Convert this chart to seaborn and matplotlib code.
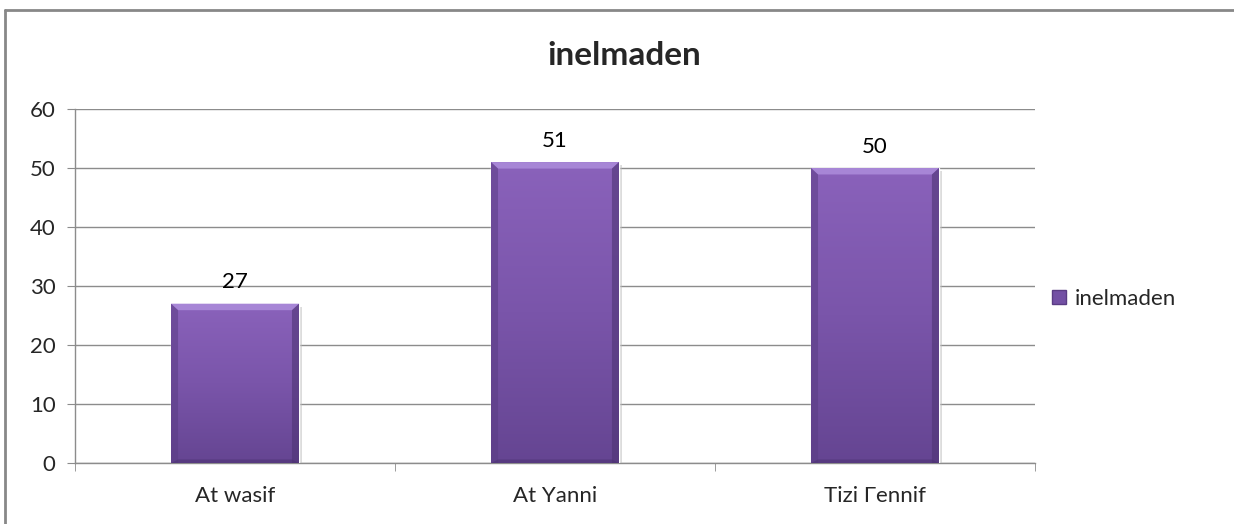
import numpy as np
import pandas as pd
import seaborn as sns
from matplotlib import pyplot as plt
from matplotlib.patches import Polygon
from matplotlib.colors import LinearSegmentedColormap
from matplotlib.lines import Line2D

# data
categories = ['At wasif', 'At Yanni', 'Tizi Γennif']
values = [27, 51, 50]
series_name = 'inelmaden'
yticks = [0, 10, 20, 30, 40, 50, 60]

df = pd.DataFrame({'place': categories, 'count': values})

sns.set_style("white")
plt.rcParams['font.family'] = ['Lato', 'DejaVu Sans']

fig = plt.figure(figsize=(12.34, 5.24), dpi=100)
ax = fig.add_axes([0.0608, 0.1164, 0.7779, 0.6756])

grey = '#8c8c8c'
bar_col = '#7b56aa'
sns.barplot(data=df, x='place', y='count', color=bar_col, width=0.4,
            saturation=1, label=series_name, ax=ax, zorder=3)

ax.set_xlim(-0.5, 2.5)
ax.set_ylim(0, 60)

# gradient + bevel on the bars (excel look)
cmap = LinearSegmentedColormap.from_list('purp', ['#654592', '#7a55aa', '#8a62bb'])
grad = np.linspace(0, 1, 256).reshape(-1, 1)
for p in list(ax.patches):
    x, w, h = p.get_x(), p.get_width(), p.get_height()
    im = ax.imshow(grad, extent=[x, x + w, 0, h], origin='lower', aspect='auto',
                   cmap=cmap, zorder=3.5)
    im.set_clip_path(p)
    dx, dy = 0.022, 1.1
    top = Polygon([[x, h], [x + w, h], [x + w - dx, h - dy], [x + dx, h - dy]],
                  closed=True, facecolor='#a786d6', edgecolor='none', zorder=4)
    left = Polygon([[x, 0], [x, h], [x + dx, h - dy], [x + dx, 0]],
                   closed=True, facecolor='#5a3c84', alpha=0.55, edgecolor='none', zorder=4)
    right = Polygon([[x + w, 0], [x + w, h], [x + w - dx, h - dy], [x + w - dx, 0]],
                    closed=True, facecolor='#4e3474', alpha=0.6, edgecolor='none', zorder=4)
    bottom = Polygon([[x, 0], [x + w, 0], [x + w - dx, 0.6], [x + dx, 0.6]],
                     closed=True, facecolor='#4a3170', alpha=0.5, edgecolor='none', zorder=4)
    for poly in (top, left, right, bottom):
        ax.add_patch(poly)
    # soft shadow
    ax.add_patch(Polygon([[x + w, 0], [x + w + 0.01, 0], [x + w + 0.01, h - 0.5], [x + w, h - 0.5]],
                         closed=True, facecolor='#bbbbbb', alpha=0.5, edgecolor='none', zorder=2.9))

ax.set_xlim(-0.5, 2.5)
ax.set_ylim(0, 60)

# value labels
for i, v in enumerate(values):
    ax.text(i, v + 1.9, str(v), ha='center', va='bottom', fontsize=16, color='black', zorder=5)

# grid and axes
ax.set_yticks(yticks)
ax.yaxis.grid(True, color=grey, linewidth=1)
ax.set_axisbelow(True)
for s in ['top', 'right']:
    ax.spines[s].set_visible(False)
for s in ['left', 'bottom']:
    ax.spines[s].set_color(grey)
    ax.spines[s].set_linewidth(1)

ax.tick_params(axis='y', which='both', left=True, length=6, color=grey, labelsize=16, pad=8)
ax.set_xticks([0, 1, 2])
ax.set_xticklabels(categories)
ax.tick_params(axis='x', which='major', bottom=False, labelsize=16, pad=13)
ax.set_xticks([-0.5, 0.5, 1.5, 2.5], minor=True)
ax.tick_params(axis='x', which='minor', bottom=True, length=6, color=grey)
ax.set_xlabel('')
ax.set_ylabel('')

fig.text(0.506, 0.895, 'inelmaden', ha='center', va='center', fontsize=24, fontweight='bold')

# legend
handle = [Line2D([0], [0], marker='s', linestyle='none', markersize=10,
                 markerfacecolor='#7350a4', markeredgecolor='#5a3c84')]
fig.legend(handle, [series_name], loc='center left', bbox_to_anchor=(0.835, 0.43),
           frameon=False, fontsize=16, handlelength=0.8, handletextpad=0.3)
if ax.get_legend() is not None:
    ax.get_legend().remove()

# chart frame (only top and left visible in the crop)
fig.add_artist(Line2D([5 / 1234, 5 / 1234], [0, 1 - 9.5 / 524], transform=fig.transFigure,
                      color='#888888', linewidth=2))
fig.add_artist(Line2D([5 / 1234, 1], [1 - 9.5 / 524, 1 - 9.5 / 524], transform=fig.transFigure,
                      color='#888888', linewidth=2))

fig.savefig('out.png', dpi=100, facecolor='white')
